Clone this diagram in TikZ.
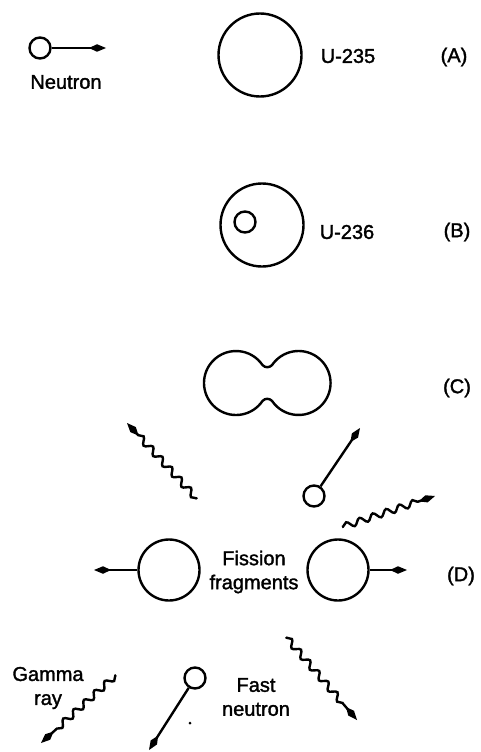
\documentclass[tikz,border=0pt]{standalone}
\usepackage{fontspec}
\setmainfont[FakeBold=1.6]{Liberation Sans}
\usetikzlibrary{arrows.meta,decorations.pathmorphing}
\begin{document}
\begin{tikzpicture}[x=1pt,y=-1pt,
  line width=2.4pt,
  lbl/.style={font=\fontsize{20}{24}\selectfont, inner sep=0pt, align=center},
  nucleus/.style={circle, draw, minimum size=83pt, inner sep=0pt},
  frag/.style={circle, draw, minimum size=61pt, inner sep=0pt},
  neut/.style={circle, draw, minimum size=21pt, inner sep=0pt},
  tip/.style={-{Kite[length=17pt,width=7.5pt,inset=8pt]}},
  gamma/.style={tip, decorate, decoration={snake, amplitude=3.2pt, segment length=14pt, pre length=1pt, post length=16pt}},
]
\useasboundingbox (0,0) rectangle (480,752);

% (A) incoming neutron and U-235
\node[neut] (n0) at (40,48) {};
\coordinate (n0tip) at (106,48);
\draw[tip, line width=1.8pt] (n0) -- (n0tip);
\node[lbl] (n0lbl) at (66,82) {Neutron};
\node[nucleus] (u235) at (260,55) {};
\node[lbl] (u235lbl) at (348,56) {U-235};
\node[lbl] (la) at (454,57) {(A)};

% (B) compound nucleus U-236
\node[nucleus] (u236) at (262,225) {};
\node[neut] (nin) at (245,222) {};
\node[lbl] (u236lbl) at (347,232) {U-236};
\node[lbl] (lb) at (457,232) {(B)};

% (C) deformed nucleus, two overlapping lobes
\draw (236,383) ++(34:32) arc[start angle=34, end angle=326, radius=32]
      .. controls +(45:4) and +(135:4) .. ++(9.5,0)
      arc[start angle=214, end angle=506, radius=32]
      .. controls +(225:4) and +(315:4) .. cycle;
\node[lbl] (lc) at (457,388) {(C)};

% (D) fission fragments
\node[frag] (fragL) at (169,570) {};
\node[frag] (fragR) at (338,570) {};
\coordinate (fragLtip) at (94,570);
\coordinate (fragRtip) at (407,570);
\draw[tip] (fragL) -- (fragLtip);
\draw[tip] (fragR) -- (fragRtip);
\node[lbl] (fraglbl) at (254,572) {Fission\\fragments};
\node[lbl] (ld) at (461,576) {(D)};

% gamma rays
\coordinate (g1a) at (197,499); \coordinate (g1b) at (127,423);
\coordinate (g2a) at (342,527); \coordinate (g2b) at (435,496);
\coordinate (g3a) at (116,675); \coordinate (g3b) at (41,743);
\coordinate (g4a) at (286,637); \coordinate (g4b) at (357,720);
\draw[gamma] (g1a) -- (g1b);
\draw[gamma] (g2a) -- (g2b);
\draw[gamma] (g3a) -- (g3b);
\draw[gamma] (g4a) -- (g4b);
\node[lbl] (gamlbl) at (48,688) {Gamma\\ray};

% fast neutrons
\node[neut] (n1) at (314,496) {};
\coordinate (n1tip) at (360,428);
\draw[tip] (n1) -- (n1tip);
\node[neut] (n2) at (195,678) {};
\coordinate (n2tip) at (149,750);
\draw[tip] (n2) -- (n2tip);
\node[lbl] (fastlbl) at (256,697) {Fast\\neutron};
\fill (190,723) circle[radius=1.5];
\end{tikzpicture}
\end{document}
